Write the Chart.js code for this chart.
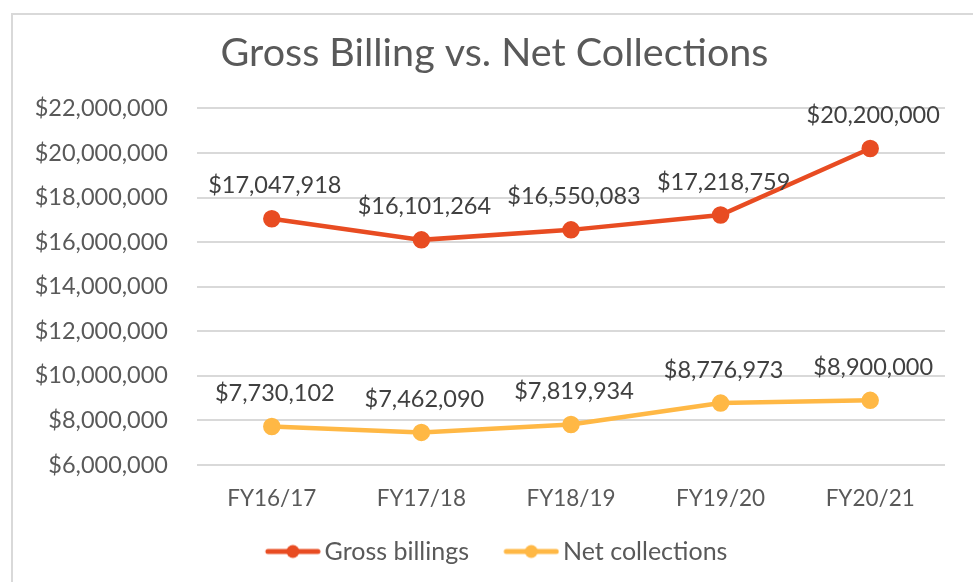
<!DOCTYPE html>
<html>
<head>
<meta charset="utf-8">
<script src="https://cdn.jsdelivr.net/npm/chart.js@4"></script>
<style>
  html, body { margin: 0; padding: 0; background: #fff; }
  #wrap { width: 973px; height: 582px; }
</style>
</head>
<body>
<div id="wrap"><canvas id="chart" width="973" height="582"></canvas></div>
<script>
'use strict';

const YEARS = ['FY16/17', 'FY17/18', 'FY18/19', 'FY19/20', 'FY20/21']
const GROSS = [17047918, 16101264, 16550083, 17218759, 20200000]
const NET = [7730102, 7462090, 7819934, 8776973, 8900000]
const Y_MIN = 6000000
const Y_MAX = 22000000
const Y_STEP = 2000000

const RED = '#E84C22'
const YELLOW = '#FFB845'
const FONT = 'Lato, "DejaVu Sans", sans-serif'

function money(v) {
    return '$' + v.toLocaleString('en-US')
}

// legend marker: line with a dot in the middle, drawn on the right part of
// a wider transparent canvas so the items sit further apart
function marker(color) {
    const c = document.createElement('canvas')
    c.width = 92
    c.height = 16
    const g = c.getContext('2d')
    g.strokeStyle = color
    g.lineWidth = 5
    g.lineCap = 'round'
    g.beginPath()
    g.moveTo(39, 8)
    g.lineTo(89, 8)
    g.stroke()
    g.fillStyle = color
    g.beginPath()
    g.arc(64, 8, 6.5, 0, Math.PI * 2)
    g.fill()
    return c
}

const frame = {
    id: 'frame',
    beforeDraw(chart) {
        const ctx = chart.ctx
        ctx.save()
        ctx.strokeStyle = '#d9d9d9'
        ctx.lineWidth = 2
        ctx.beginPath()
        ctx.moveTo(12, 582)
        ctx.lineTo(12, 14)
        ctx.lineTo(973, 14)
        ctx.stroke()
        ctx.restore()
    }
}

// title sits a bit right of the layout centre in the original
const titleShift = {
    id: 'titleShift',
    afterLayout(chart) {
        chart.titleBlock.left += 12
        chart.titleBlock.right += 12
    }
}

const valueLabels = {
    id: 'valueLabels',
    afterDatasetsDraw(chart) {
        const ctx = chart.ctx
        ctx.save()
        ctx.font = '23.5px ' + FONT
        ctx.fillStyle = '#404040'
        ctx.textAlign = 'center'
        ctx.textBaseline = 'middle'
        chart.data.datasets.forEach(function (ds, i) {
            chart.getDatasetMeta(i).data.forEach(function (pt, j) {
                ctx.fillText(money(ds.data[j]), pt.x + 3, pt.y - 33)
            })
        })
        ctx.restore()
    }
}

const ctx = document.getElementById('chart').getContext('2d')
const chart = new Chart(ctx, {
    type: 'line',
    data: {
        labels: YEARS,
        datasets: [{
            label: 'Gross billings',
            data: GROSS,
            borderColor: RED,
            backgroundColor: RED,
            borderWidth: 4.5,
            pointRadius: 6.5,
            pointHoverRadius: 6.5
        }, {
            label: 'Net collections',
            data: NET,
            borderColor: YELLOW,
            backgroundColor: YELLOW,
            borderWidth: 4.5,
            pointRadius: 6.5,
            pointHoverRadius: 6.5
        }]
    },
    options: {
        responsive: false,
        animation: false,
        layout: { padding: { left: 20, right: 28, top: 0, bottom: 8 } },
        scales: {
            x: {
                offset: true,
                grid: { display: false, drawTicks: false },
                border: { display: false },
                ticks: { color: '#595959', font: { family: FONT, size: 22.5 }, padding: 20 }
            },
            y: {
                min: Y_MIN,
                max: Y_MAX,
                grid: { color: '#d9d9d9', lineWidth: 2, drawTicks: false },
                border: { display: false },
                afterFit(scale) { scale.width = 177 },
                ticks: {
                    stepSize: Y_STEP,
                    color: '#595959',
                    padding: 29,
                    font: { family: FONT, size: 23.5 },
                    callback: function (v) { return money(v) }
                }
            }
        },
        plugins: {
            title: {
                display: true,
                text: 'Gross Billing vs. Net Collections',
                color: '#595959',
                font: { family: FONT, size: 39.5, weight: 'normal' },
                padding: { top: 30, bottom: 31 }
            },
            legend: {
                position: 'bottom',
                labels: {
                    usePointStyle: true,
                    pointStyleWidth: 74.5,
                    color: '#595959',
                    font: { family: FONT, size: 25 },
                    padding: 7,
                    generateLabels(ch) {
                        return ch.data.datasets.map(function (ds, i) {
                            return {
                                text: ds.label,
                                pointStyle: marker(ds.borderColor),
                                fillStyle: ds.borderColor,
                                strokeStyle: ds.borderColor,
                                lineWidth: 0,
                                fontColor: '#595959',
                                datasetIndex: i,
                                hidden: false
                            }
                        })
                    }
                }
            },
            tooltip: { enabled: false }
        }
    },
    plugins: [frame, titleShift, valueLabels]
})
</script>
</body>
</html>
